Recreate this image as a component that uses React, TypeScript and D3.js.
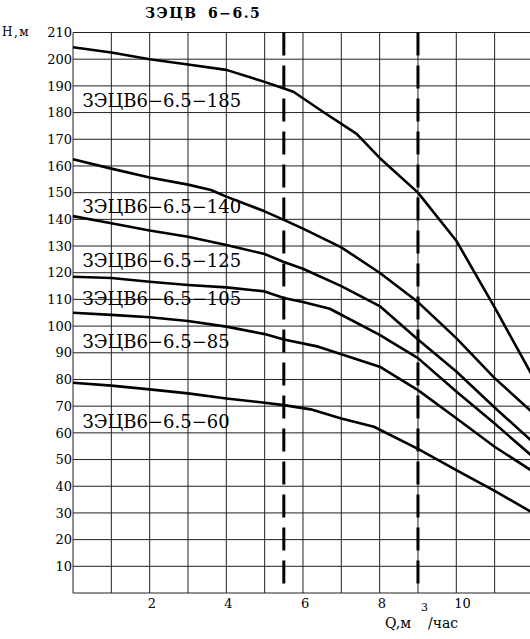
import * as d3 from 'd3'

// Q axis (м³/час) and H axis (м) ticks
const qGrid = [0, 1, 2, 3, 4, 5, 6, 7, 8, 9, 10, 11, 12]
const qLabels = [2, 4, 6, 8, 10]
const hGrid = [0, 10, 20, 30, 40, 50, 60, 70, 80, 90, 100, 110, 120, 130, 140, 150, 160, 170, 180, 190, 200, 210]
const hLabels = hGrid.filter((h) => h > 0)

// working range limits (dashed)
const rangeLimits = [5.5, 9]

const pumpNames = ['ЗЭЦВ6−6.5−185', 'ЗЭЦВ6−6.5−140', 'ЗЭЦВ6−6.5−125', 'ЗЭЦВ6−6.5−105', 'ЗЭЦВ6−6.5−85', 'ЗЭЦВ6−6.5−60']

// [Q, H]
const curve185: [number, number][] = [
  [0, 204.5], [1, 202.5], [2, 200], [3, 198], [4, 196], [5, 191.5], [5.75, 187.8],
  [6.5, 180.5], [7.4, 172], [8, 163], [9, 150], [10, 132], [11, 107], [12, 81],
]
const curve140: [number, number][] = [
  [0, 162.5], [1, 159], [2, 155.7], [3, 153], [3.6, 151], [4, 148.5], [5, 143], [5.5, 139.8],
  [6, 136.5], [7, 129.5], [8, 120], [9, 109], [10, 95.5], [11, 80.5], [12, 67.5],
]
const curve125: [number, number][] = [
  [0, 141.2], [1, 138.5], [2, 135.8], [3, 133.5], [4, 130.4], [5, 127], [5.5, 124],
  [6, 121.5], [7, 115], [8, 107.5], [9, 95], [10, 83], [11, 69.5], [12, 56.5],
]
const curve105: [number, number][] = [
  [0, 118.5], [1, 118], [2, 116.6], [3, 115.4], [4, 114.5], [5, 113], [5.5, 110.5],
  [6, 109], [6.7, 106.5], [8, 96.7], [9, 88], [10, 75.5], [11, 63.5], [12, 51],
]
const curve85: [number, number][] = [
  [0, 105], [1, 104.2], [2, 103.3], [3, 101.9], [4, 99.8], [5, 97], [5.5, 95],
  [6.4, 92.3], [8, 84.8], [9, 76], [10, 65.5], [11, 54.8], [12, 45.5],
]
const curve60: [number, number][] = [
  [0, 78.8], [1, 77.7], [2, 76.3], [3, 74.8], [4, 72.9], [5, 71.3], [5.5, 70.4],
  [6.2, 68.8], [7, 65.4], [7.85, 62.3], [9, 54], [10, 46], [11, 38.3], [12, 30],
]
const curves = [curve185, curve140, curve125, curve105, curve85, curve60]

// where each name sits, in chart units
const labelQ = 0.25
const labelH = [182, 142.5, 122.3, 108, 91.8, 61.8]

const font = 'DejaVu Serif'

export default function App() {
  const width = 530
  const height = 639
  const left = 73
  const top = 32.5
  const bottom = 593

  const x = d3.scaleLinear().domain([0, 12]).range([left, left + 12 * 38.33])
  const y = d3.scaleLinear().domain([0, 210]).range([bottom, top])

  const line = d3
    .line<[number, number]>()
    .x((d) => x(d[0]))
    .y((d) => y(d[1]))

  return (
    <svg
      width={width}
      height={height}
      style={{ position: 'absolute', left: 0, top: 0, background: '#fff' }}
      fontFamily={font}
    >
      {/* grid */}
      <g stroke="#222" strokeWidth={1}>
        {hGrid.map((h) => (
          <line key={'h' + h} x1={x(0)} x2={x(12)} y1={y(h)} y2={y(h)} />
        ))}
        {qGrid.map((q) => (
          <line key={'q' + q} x1={x(q)} x2={x(q)} y1={y(0)} y2={y(210)} />
        ))}
      </g>

      {/* dashed limits */}
      <g stroke="#000" strokeWidth={3} strokeDasharray="23,10">
        {rangeLimits.map((q) => (
          <line key={q} x1={x(q)} x2={x(q)} y1={y(210)} y2={y(0)} />
        ))}
      </g>

      {/* curves */}
      <g fill="none" stroke="#000" strokeWidth={2.6} strokeLinejoin="round">
        {curves.map((c, i) => (
          <path key={i} d={line(c) || ''} />
        ))}
      </g>

      {/* curve names */}
      {pumpNames.map((name, i) => (
        <text key={name} x={x(labelQ)} y={y(labelH[i])} fontSize={18} fill="#000">
          {name}
        </text>
      ))}

      {/* y tick labels */}
      {hLabels.map((h) => (
        <text key={h} x={x(0) - 1} y={y(h)} dy="0.36em" textAnchor="end" fontSize={13} fill="#000">
          {h}
        </text>
      ))}

      {/* x tick labels */}
      {qLabels.map((q) => (
        <text key={q} x={x(q) - 2} y={608} fontSize={13} fill="#000">
          {q}
        </text>
      ))}

      {/* axis titles */}
      <text x={2} y={36} fontSize={12} letterSpacing={1.5} fill="#000">
        Н,м
      </text>
      <text y={628} fontSize={14} fill="#000">
        <tspan x={385}>Q,м</tspan>
        <tspan x={421} y={611} fontSize={11}>
          3
        </tspan>
        <tspan x={428} y={628}>
          /час
        </tspan>
      </text>

      {/* title */}
      <text y={18} fontSize={14} fontWeight="bold" letterSpacing={1.5} fill="#000">
        <tspan x={145}>ЗЭЦВ</tspan>
        <tspan x={208}>6−6.5</tspan>
      </text>
    </svg>
  )
}
